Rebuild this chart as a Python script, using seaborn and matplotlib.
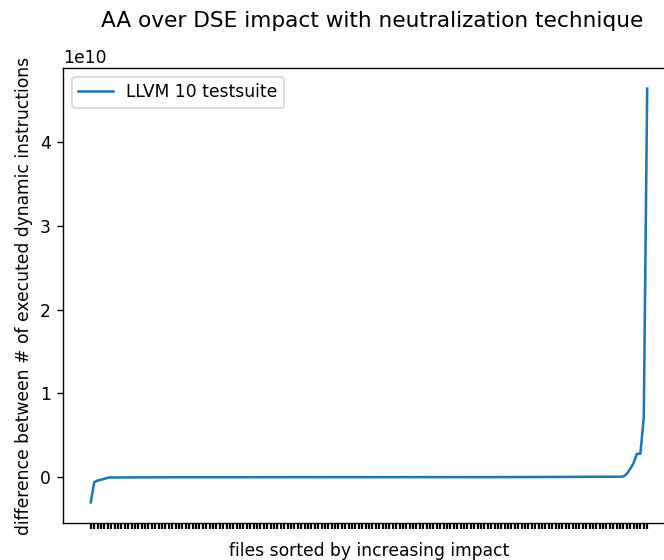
import numpy as np
import pandas as pd
import matplotlib
matplotlib.use("Agg")
import matplotlib.pyplot as plt
import seaborn as sns

title = "AA over DSE impact with neutralization technique"
x_label = "files sorted by increasing impact"
y_label = "difference between # of executed dynamic instructions"
series_name = "LLVM 10 testsuite"

# difference in executed dynamic instructions, in millions, sorted ascending
impact_millions = [
    -3000, -600, -400, -300, -200, -60, -20,
    -40, -35, -31, -28, -25, -22, -20, -18, -16, -14, -12, -11, -10, -9,
    -8, -7, -7, -6, -6, -5, -5, -4, -4, -3, -3, -3, -2, -2, -2, -2, -1, -1, -1, -1,
    -1, -1, 0, 0, 0, 0, 0, 0, 0, 0,
    0, 0, 0, 0, 0, 0, 0, 0, 0, 0,
    0, 0, 0, 0, 0, 0, 0, 0, 0, 0,
    0, 0, 0, 0, 0, 0, 0, 0, 0, 0,
    0, 0, 0, 0, 0, 0, 0, 0, 1, 1,
    1, 1, 1, 1, 1, 2, 2, 2, 2, 2,
    2, 2, 3, 3, 3, 3, 4, 4, 4, 5,
    5, 5, 6, 6, 7, 7, 8, 8, 9, 10,
    10, 11, 12, 13, 14, 15, 16, 17, 18, 19,
    20, 21, 22, 23, 24, 25, 26, 27, 28, 29,
    30, 32, 34, 36, 38, 40, 42, 44, 46, 48,
    50, 52, 54, 56, 58, 60,
    80, 400, 1000, 1700, 2800, 2800, 7200, 46400,
]

values = np.array(impact_millions, dtype=float) * 1e6
file_index = np.arange(len(values))
df = pd.DataFrame({"file": file_index, "diff": values})

DPI = 123
fig = plt.figure(figsize=(664 / DPI, 560 / DPI), dpi=DPI)
ax = fig.add_axes([63 / 664, 1 - 523 / 560, 612 / 664, 455 / 560])
sns.lineplot(data=df, x="file", y="diff", ax=ax, label=series_name, color="#1f77b4", linewidth=1.5)
ax.set_xticks(file_index)
ax.set_xticklabels([""] * len(file_index))
ax.tick_params(axis="x", width=1.3)
ax.set_xlabel(x_label, fontsize=10)
ax.set_ylabel(y_label, fontsize=10)
ax.legend(loc="upper left")
fig.suptitle(title, x=372 / 664, y=0.98, fontsize=12.7)
fig.savefig("out.png", dpi=DPI)
